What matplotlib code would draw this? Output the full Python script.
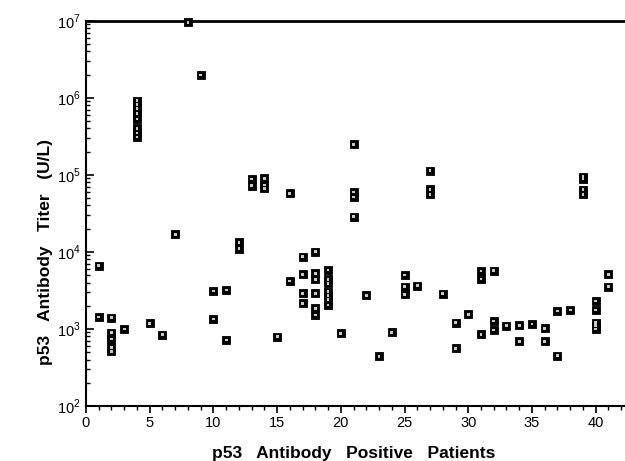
import matplotlib
matplotlib.use("Agg")
import matplotlib.pyplot as plt
from matplotlib.ticker import MultipleLocator, LogLocator, NullFormatter, FixedLocator, FixedFormatter

plt.rcParams["font.family"] = ["Liberation Sans", "DejaVu Sans"]
plt.rcParams["mathtext.fontset"] = "custom"
plt.rcParams["mathtext.rm"] = "Liberation Sans"

# patient index and titer values (U/L)
patients = [
    1, 1,
    2, 2, 2, 2, 2,
    3,
    4, 4, 4, 4, 4, 4, 4, 4,
    5, 6, 7, 8, 9,
    10, 10,
    11, 11,
    12, 12,
    13, 13,
    14, 14, 14,
    15,
    16, 16,
    17, 17, 17, 17,
    18, 18, 18, 18, 18, 18,
    19, 19, 19, 19, 19, 19, 19,
    20,
    21, 21, 21, 21,
    22, 23, 24,
    25, 25, 25,
    26,
    27, 27, 27,
    28,
    29, 29,
    30,
    31, 31, 31,
    32, 32, 32,
    33,
    34, 34,
    35,
    36, 36,
    37, 37,
    38,
    39, 39, 39, 39,
    40, 40, 40, 40, 40,
    41, 41,
]
titers = [
    6600, 1430,
    1400, 890, 740, 580, 510,
    1000,
    920000, 820000, 720000, 620000, 530000, 400000, 350000, 310000,
    1190, 840, 17000, 9500000, 1970000,
    3100, 1350,
    3200, 720,
    13300, 11000,
    88000, 72000,
    90000, 74000, 67000,
    790,
    57500, 4200,
    8700, 5100, 2900, 2150,
    10000, 5300, 4400, 2900, 1850, 1520,
    5800, 4400, 3900, 3050, 2700, 2400, 2050,
    880,
    250000, 60000, 51500, 28600,
    2730, 440, 900,
    5000, 3550, 2800,
    3650,
    113000, 65000, 56000,
    2870,
    1210, 560,
    1550,
    5650, 4450, 850,
    5700, 1270, 970,
    1100,
    1120, 690,
    1160,
    1020, 690,
    1710, 450,
    1760,
    95000, 88000, 64000, 56000,
    2300, 1760, 1200, 1100, 1000,
    5100, 3550,
]

xticks = [0, 5, 10, 15, 20, 25, 30, 35, 40]
ytick_vals = [1e2, 1e3, 1e4, 1e5, 1e6, 1e7]
ytick_labels = [r"$10^{2}$", r"$10^{3}$", r"$10^{4}$", r"$10^{5}$", r"$10^{6}$", r"$10^{7}$"]

fig = plt.figure(figsize=(6.25, 4.61), dpi=100)
ax = fig.add_axes([86 / 625, 55 / 461, 1 - 86 / 625, (406 - 20.7) / 461])

ax.scatter(patients, titers, marker="s", s=32, facecolor="black",
           edgecolor="black", linewidths=0.6, zorder=3, clip_on=False)
ax.scatter(patients, titers, marker="s", s=4, facecolor="#c8c8c8",
           edgecolor="none", zorder=4, clip_on=False)

ax.set_yscale("log")
ax.set_ylim(1e2, 1e7)
ax.set_xlim(0, 42.3)

ax.xaxis.set_major_locator(FixedLocator(xticks))
ax.xaxis.set_minor_locator(MultipleLocator(1))
ax.yaxis.set_major_locator(FixedLocator(ytick_vals))
ax.yaxis.set_major_formatter(FixedFormatter(ytick_labels))
ax.yaxis.set_minor_locator(LogLocator(base=10, subs=range(2, 10)))
ax.yaxis.set_minor_formatter(NullFormatter())

ax.tick_params(axis="x", which="major", direction="out", length=5, width=1.2,
               labelsize=10.5, pad=2)
ax.tick_params(axis="x", which="minor", direction="out", length=3, width=1.0)
ax.tick_params(axis="y", which="major", direction="in", length=6, width=1.2,
               labelsize=10.5, pad=4)
ax.tick_params(axis="y", which="minor", direction="in", length=3, width=1.0)

for side in ["left", "bottom"]:
    ax.spines[side].set_linewidth(1.5)
ax.spines["top"].set_linewidth(2.0)
ax.spines["right"].set_visible(False)

ax.set_xlabel("p53   Antibody   Positive   Patients", fontsize=12.5,
              fontweight="bold", va="center")
ax.set_ylabel("p53   Antibody   Titer   (U/L)", fontsize=12.5,
              fontweight="bold", va="center")
ax.xaxis.set_label_coords(0.497, -0.122)
ax.yaxis.set_label_coords(-0.076, 0.40)

fig.savefig("out.png", dpi=100)
